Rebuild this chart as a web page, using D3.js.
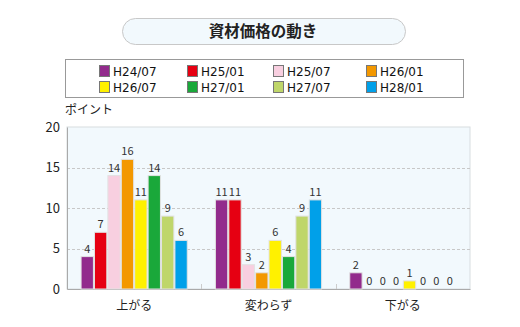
<!DOCTYPE html>
<html><head><meta charset="utf-8">
<script src="https://cdn.jsdelivr.net/npm/d3@7"></script>
<style>body{margin:0;background:#fff;font-family:"Noto Sans CJK JP","Noto Sans",sans-serif;}</style>
</head><body><svg id="c" width="520" height="327"></svg>
<script>
const title = "資材価格の動き";
const categories = ["上がる","変わらず","下がる"];
const seriesNames = ["H24/07","H25/01","H25/07","H26/01","H26/07","H27/01","H27/07","H28/01"];
const seriesColors = ["#922b8c","#e60012","#f8cfe0","#f39800","#fff100","#1aa83a","#bfd66a","#00a0e9"];
const v_H24_07 = [4,11,2];
const v_H25_01 = [7,11,0];
const v_H25_07 = [14,3,0];
const v_H26_01 = [16,2,0];
const v_H26_07 = [11,6,1];
const v_H27_01 = [14,4,0];
const v_H27_07 = [9,9,0];
const v_H28_01 = [6,11,0];
const seriesValues = [v_H24_07,v_H25_01,v_H25_07,v_H26_01,v_H26_07,v_H27_01,v_H27_07,v_H28_01];
const yTicks = [0,5,10,15,20];
const yLabel = "ポイント";

const svg = d3.select("#c");
const font = '"Noto Sans CJK JP","Noto Sans",sans-serif';
const latin = '"DejaVu Sans",sans-serif';

// title pill
svg.append("rect").attr("x",122.5).attr("y",18.5).attr("width",283).attr("height",26).attr("rx",13)
  .attr("fill","#f2f9fd").attr("stroke","#c8c8c8");
svg.append("text").attr("x",263).attr("y",37).attr("text-anchor","middle").attr("font-size",15.5)
  .attr("font-weight","bold").attr("font-family",font).attr("fill","#222").text(title);

// legend
svg.append("rect").attr("x",65.5).attr("y",59.5).attr("width",398).attr("height",38)
  .attr("fill","#fff").attr("stroke","#999");
const legX = [99,187,273,366], legY = [71,87];
seriesNames.forEach((n,i)=>{
  const g = svg.append("g").attr("transform",`translate(${legX[i%4]},${legY[Math.floor(i/4)]})`);
  g.append("rect").attr("x",0.5).attr("y",-5.5).attr("width",10).attr("height",11)
    .attr("fill",seriesColors[i]).attr("stroke","#777").attr("stroke-width",1);
  g.append("text").attr("x",14).attr("y",4.5).attr("font-size",12).attr("font-family",latin).attr("fill","#111").text(n);
});

// plot
const m = {l:67,r:470,t:127,b:289};
const x0 = d3.scaleBand().domain(categories).range([m.l,m.r]).paddingInner(0).paddingOuter(0);
const x1 = d3.scaleBand().domain(seriesNames).range([0,x0.bandwidth()]).paddingOuter(1.05).paddingInner(0.08);
const y = d3.scaleLinear().domain([0,20]).range([m.b,m.t]);

svg.append("rect").attr("x",m.l).attr("y",m.t).attr("width",m.r-m.l).attr("height",m.b-m.t)
  .attr("fill","#f2f9fd").attr("stroke","#d8dde0");
// grid
svg.append("g").selectAll("line").data(yTicks.filter(t=>t>0&&t<20)).join("line")
  .attr("x1",m.l).attr("x2",m.r).attr("y1",d=>Math.round(y(d))+0.5).attr("y2",d=>Math.round(y(d))+0.5)
  .attr("stroke","#c8c8c8").attr("stroke-dasharray","3,2");

// y axis
const ya = svg.append("g").attr("transform",`translate(${m.l},0)`)
  .call(d3.axisLeft(y).tickValues(yTicks).tickSize(0).tickPadding(7));
ya.select(".domain").attr("stroke","#aaa");
ya.selectAll("text").attr("font-size",13).attr("font-family",font).attr("fill","#222");
// x axis
const xa = svg.append("g").attr("transform",`translate(0,${m.b})`)
  .call(d3.axisBottom(x0).tickSize(0).tickPadding(12));
xa.select(".domain").attr("stroke","#aaa");
xa.selectAll("text").attr("font-size",12).attr("font-family",font).attr("fill","#222");
// category separators
svg.append("g").selectAll("line").data(categories.slice(1)).join("line")
  .attr("x1",d=>Math.round(x0(d))+0.5).attr("x2",d=>Math.round(x0(d))+0.5)
  .attr("y1",m.b-5).attr("y2",m.b).attr("stroke","#ccc");

svg.append("text").attr("x",65).attr("y",114).attr("font-size",12).attr("font-family",font)
  .attr("fill","#222").text(yLabel);

// bars
categories.forEach((c,ci)=>{
  const g = svg.append("g").attr("transform",`translate(${x0(c)},0)`);
  const data = seriesNames.map((n,si)=>({n,v:seriesValues[si][ci],col:seriesColors[si]}));
  g.selectAll("rect").data(data.filter(d=>d.v>0)).join("rect")
    .attr("x",d=>x1(d.n)).attr("width",x1.bandwidth())
    .attr("y",d=>y(d.v)).attr("height",d=>y(0)-y(d.v))
    .attr("fill",d=>d.col).attr("stroke","#e2e2e2").attr("stroke-width",1);
  g.selectAll("text").data(data).join("text")
    .attr("x",d=>x1(d.n)+x1.bandwidth()/2).attr("y",d=>y(d.v)-4)
    .attr("text-anchor","middle").attr("font-size",11).attr("font-family",font).attr("fill","#333")
    .text(d=>d.v);
});
</script></body></html>
